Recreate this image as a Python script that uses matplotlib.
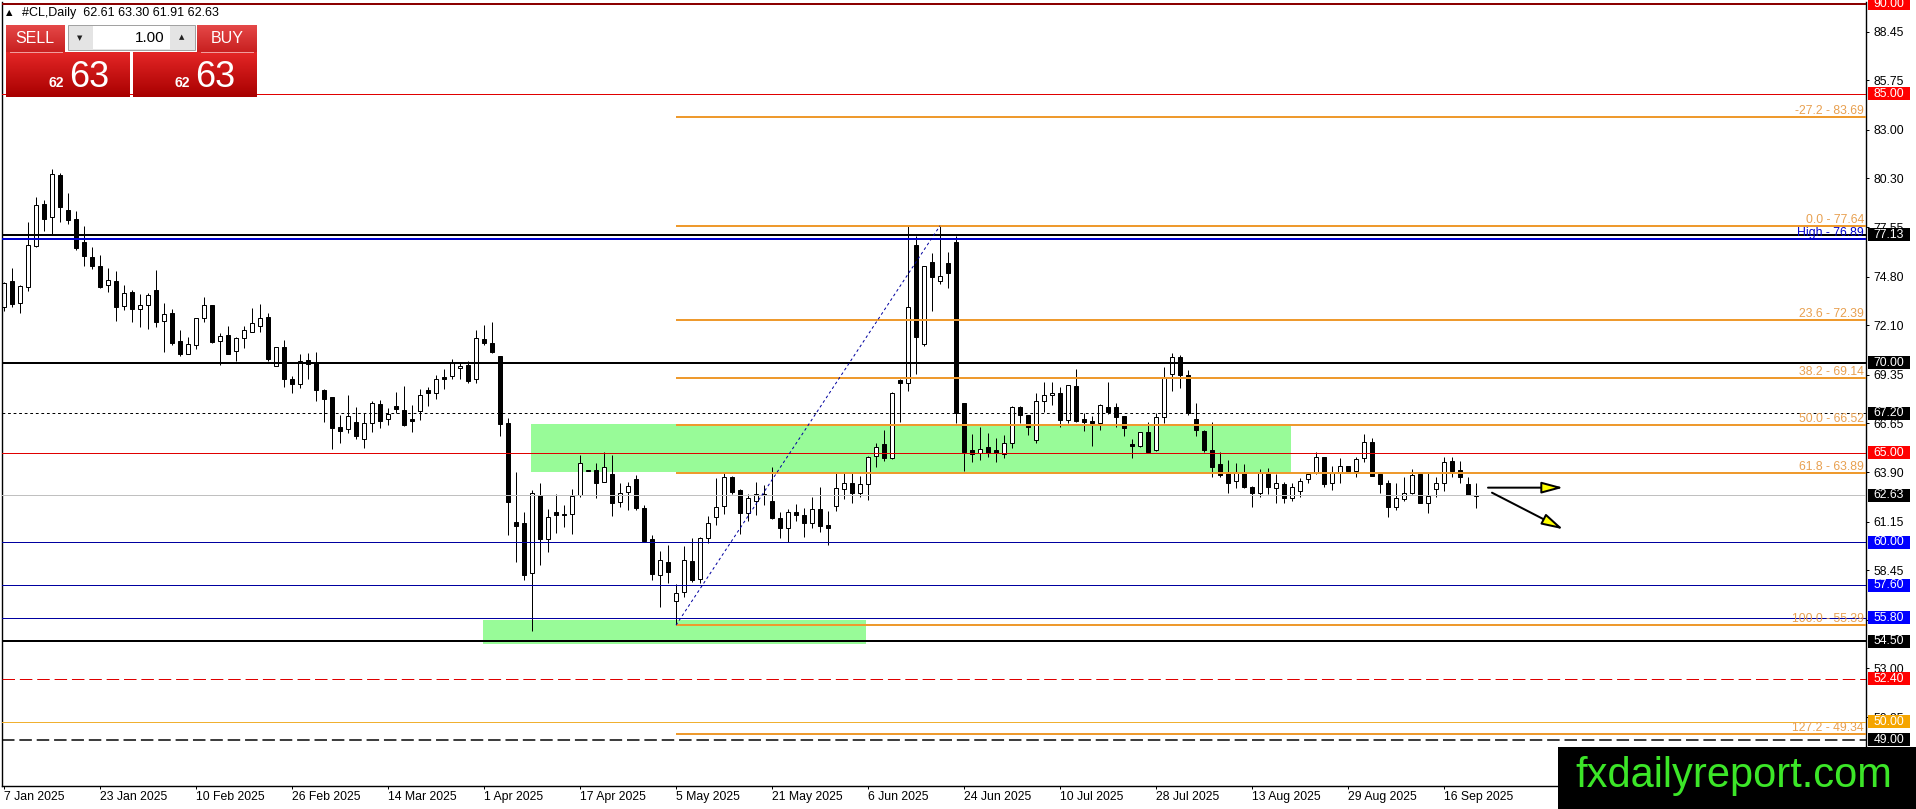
import matplotlib
matplotlib.use('Agg')
import matplotlib.pyplot as plt
from matplotlib.patches import Rectangle
from matplotlib.transforms import blended_transform_factory
from matplotlib.colors import LinearSegmentedColormap
import numpy as np

plt.rcParams['font.family'] = ['Liberation Sans', 'DejaVu Sans']
plt.rcParams['lines.scale_dashes'] = False

# ---------------- data (bar index 0 = 7 Jan 2025, daily bars) ----------------
opens = [73.13, 74.54, 73.32, 74.25, 76.53, 78.85, 78.11, 80.45, 78.52, 78.00,
         76.72, 75.90, 75.38, 74.32, 74.54, 73.17, 73.93, 72.98, 73.23, 74.04,
         72.35, 72.76, 71.20, 70.51, 71.00, 72.48, 73.21, 71.24, 71.53, 70.68,
         71.41, 71.74, 72.07, 72.56, 69.83, 70.90, 69.08, 68.80, 70.14, 70.01,
         68.49, 68.08, 66.43, 66.30, 66.69, 65.74, 66.63, 67.69, 66.85, 67.58,
         67.36, 66.89, 67.30, 68.49, 68.30, 69.20, 69.27, 69.70, 69.86, 69.08,
         71.35, 71.13, 70.37, 66.63, 61.12, 61.06, 58.31, 62.64, 60.17, 61.69,
         61.56, 61.56, 62.62, 63.99, 64.03, 63.38, 63.79, 62.27, 62.82, 63.51,
         61.90, 60.17, 58.18, 58.89, 56.75, 57.26, 58.96, 57.94, 60.22, 61.40,
         62.03, 63.66, 62.92, 61.62, 62.31, 62.70, 62.31, 61.34, 60.78, 61.67,
         61.52, 61.06, 61.84, 60.97, 62.03, 62.96, 63.33, 62.73, 63.23, 64.81,
         65.46, 64.68, 69.05, 68.90, 76.57, 71.05, 75.60, 74.58, 75.55, 76.72,
         67.75, 65.15, 64.96, 65.30, 65.15, 64.91, 65.52, 67.56, 67.10, 65.70,
         67.89, 68.19, 68.30, 66.82, 68.71, 66.85, 66.76, 66.63, 67.56, 67.52,
         67.04, 65.46, 65.39, 66.13, 65.15, 67.00, 69.36, 70.35, 69.32, 66.85,
         66.22, 65.15, 64.37, 63.88, 63.44, 63.88, 63.07, 62.77, 63.85, 63.01,
         63.25, 62.45, 62.88, 63.51, 63.94, 64.74, 63.29, 63.85, 64.26, 64.00,
         64.68, 65.57, 63.81, 63.33, 61.99, 62.40, 62.73, 63.81, 62.21, 62.96,
         63.29, 64.55, 64.03, 63.25, 62.61]
highs = [74.50, 75.27, 74.35, 77.87, 79.22, 79.07, 80.80, 80.56, 79.45, 78.46,
         77.63, 76.44, 76.01, 75.27, 75.12, 74.34, 74.06, 73.84, 73.87, 75.17,
         73.32, 72.98, 71.83, 71.42, 72.50, 73.69, 73.25, 71.65, 72.05, 71.46,
         72.05, 73.04, 73.26, 72.76, 70.90, 71.27, 69.27, 70.47, 70.57, 70.59,
         68.52, 68.10, 67.10, 68.21, 67.56, 67.19, 67.90, 67.93, 67.47, 68.38,
         68.71, 67.63, 68.53, 68.64, 69.32, 69.64, 70.20, 69.97, 70.12, 71.83,
         72.11, 72.28, 70.40, 66.91, 63.90, 61.71, 62.92, 63.33, 61.84, 62.70,
         62.08, 62.97, 64.87, 64.02, 64.40, 65.05, 64.87, 63.29, 63.38, 63.75,
         62.08, 60.41, 59.54, 59.85, 57.68, 59.80, 60.22, 60.32, 61.47, 63.57,
         63.85, 63.70, 62.95, 62.70, 63.38, 63.20, 64.22, 61.71, 61.84, 62.14,
         61.90, 62.55, 63.10, 61.77, 63.85, 63.85, 63.85, 63.70, 64.80, 65.52,
         66.26, 68.36, 69.08, 77.64, 77.07, 75.42, 76.10, 77.64, 76.20, 77.07,
         67.78, 66.04, 66.41, 66.08, 65.80, 65.98, 67.60, 67.60, 67.12, 68.34,
         68.92, 68.92, 68.64, 68.76, 69.64, 67.19, 67.04, 67.71, 68.92, 67.78,
         67.06, 65.74, 66.17, 66.72, 67.23, 69.75, 70.53, 70.44, 69.60, 67.75,
         66.24, 66.73, 65.05, 64.59, 64.44, 64.37, 63.14, 64.07, 64.12, 63.81,
         63.38, 63.29, 63.57, 63.94, 65.05, 64.77, 64.26, 64.68, 64.28, 64.77,
         66.02, 65.80, 63.85, 63.47, 63.29, 63.66, 64.07, 63.83, 63.88, 63.66,
         64.77, 64.74, 64.55, 63.66, 63.30]
lows = [72.90, 73.13, 72.80, 74.02, 76.47, 77.37, 77.18, 77.87, 77.74, 76.29,
        75.40, 75.23, 74.15, 73.97, 72.35, 72.95, 72.30, 72.02, 71.91, 72.02,
        70.62, 70.98, 70.40, 70.48, 70.77, 72.28, 71.13, 69.86, 70.50, 70.12,
        70.83, 71.70, 71.74, 70.12, 69.80, 68.68, 68.34, 68.58, 69.12, 67.90,
        66.72, 65.20, 65.55, 66.07, 65.78, 65.28, 66.13, 66.35, 66.54, 67.19,
        66.48, 66.17, 66.82, 67.60, 67.97, 68.53, 69.08, 69.10, 68.90, 68.86,
        71.00, 70.57, 65.93, 60.41, 58.93, 57.90, 55.08, 58.74, 59.44, 60.54,
        60.88, 60.45, 62.55, 63.97, 62.45, 63.35, 61.47, 61.99, 61.80, 61.80,
        60.10, 57.90, 56.38, 57.72, 55.39, 56.97, 57.81, 57.72, 59.95, 60.97,
        61.58, 62.70, 60.45, 61.21, 61.52, 62.08, 61.28, 60.23, 60.04, 61.21,
        60.28, 60.78, 60.60, 59.85, 61.77, 62.40, 62.18, 62.51, 62.36, 64.22,
        64.55, 64.63, 66.72, 68.45, 69.38, 70.94, 72.91, 74.39, 74.19, 66.67,
        63.99, 64.50, 64.59, 64.74, 64.50, 64.68, 65.24, 66.63, 65.98, 65.52,
        67.28, 67.65, 66.45, 66.63, 66.72, 66.22, 65.37, 66.26, 67.15, 66.45,
        65.93, 64.68, 65.33, 65.00, 65.10, 66.63, 68.45, 68.58, 67.10, 65.93,
        65.05, 63.62, 63.66, 62.77, 63.01, 63.05, 61.95, 62.55, 62.70, 62.17,
        62.21, 62.32, 62.51, 63.29, 63.81, 63.10, 62.92, 63.33, 63.94, 63.66,
        64.50, 63.70, 62.73, 61.43, 61.80, 62.32, 62.70, 62.17, 61.66, 62.51,
        62.88, 63.66, 63.33, 62.64, 61.91]
closes = [74.43, 73.28, 74.28, 76.55, 78.80, 78.02, 80.52, 78.70, 77.96, 76.42,
          75.97, 75.42, 74.25, 74.60, 73.09, 73.91, 72.98, 73.23, 73.76, 72.30,
          72.70, 71.13, 70.51, 71.03, 72.48, 73.21, 71.16, 71.48, 70.51, 71.37,
          71.81, 72.20, 72.48, 70.22, 70.90, 69.08, 68.81, 70.12, 69.94, 68.47,
          68.00, 66.35, 66.22, 67.02, 65.93, 66.63, 67.75, 66.78, 67.13, 67.41,
          66.54, 66.78, 68.19, 68.30, 69.12, 69.12, 69.98, 69.85, 68.99, 71.37,
          71.13, 70.62, 66.61, 62.27, 60.93, 58.18, 62.73, 60.21, 61.43, 61.54,
          61.51, 62.60, 64.40, 64.00, 63.32, 64.18, 62.21, 62.77, 63.16, 61.90,
          60.10, 58.22, 59.02, 58.37, 57.20, 59.02, 57.90, 60.26, 61.06, 61.95,
          63.62, 62.82, 61.66, 62.45, 62.68, 62.62, 61.34, 60.78, 61.71, 61.52,
          61.06, 61.84, 60.91, 60.78, 63.01, 63.33, 62.73, 63.23, 64.77, 65.33,
          64.68, 68.30, 68.86, 73.13, 71.46, 75.40, 74.80, 74.86, 74.99, 67.19,
          65.02, 64.91, 65.18, 65.00, 64.96, 65.52, 67.52, 67.10, 66.41, 67.89,
          68.21, 68.34, 66.82, 68.75, 66.78, 66.69, 66.63, 67.63, 67.28, 67.00,
          66.35, 65.39, 66.13, 65.05, 66.97, 69.23, 70.31, 69.32, 67.19, 66.26,
          65.15, 64.22, 63.75, 63.33, 63.94, 63.07, 62.73, 63.85, 63.10, 63.29,
          62.49, 63.10, 63.44, 63.79, 64.74, 63.25, 63.85, 64.26, 64.00, 64.63,
          65.61, 63.72, 63.25, 61.95, 62.45, 62.73, 63.75, 62.21, 62.58, 63.29,
          64.50, 64.00, 63.62, 62.66, 62.63]

date_label_bars = [0, 12, 24, 36, 48, 60, 72, 84, 96, 108, 120, 132, 144, 156, 168, 180]
date_labels = ["7 Jan 2025", "23 Jan 2025", "10 Feb 2025", "26 Feb 2025", "14 Mar 2025",
               "1 Apr 2025", "17 Apr 2025", "5 May 2025", "21 May 2025", "6 Jun 2025",
               "24 Jun 2025", "10 Jul 2025", "28 Jul 2025", "13 Aug 2025", "29 Aug 2025",
               "16 Sep 2025"]
ytick_values = [88.45, 85.75, 83.00, 80.30, 77.55, 74.80, 72.10, 69.35, 66.65,
                63.90, 61.15, 58.45, 55.70, 53.00, 50.25, 47.55]

# horizontal levels
level_values = [90.00, 85.00, 77.13, 70.00, 67.20, 65.00, 62.63, 60.00, 57.60,
                55.80, 54.50, 52.40, 50.00, 49.00]
level_colors = ['#8B0000', '#E00000', '#000000', '#000000', '#000000', '#E00000',
                '#C0C0C0', '#0000A0', '#0000A0', '#0000A0', '#000000', '#E00000',
                '#F0B030', '#000000']
level_widths = [2, 1, 2, 2, 1, 1, 1, 1, 1, 1, 2, 1, 1, 1.5]
level_styles = ['-', '-', '-', '-', ':', '-', '-', '-', '-', '-', '-', '--', '-', '--']
label_bg = ['#FF0000', '#FF0000', '#000000', '#000000', '#000000', '#FF0000',
            '#000000', '#0000FF', '#0000FF', '#0000FF', '#000000', '#FF0000',
            '#F5A500', '#000000']

high_level = 76.89
fib_ratios = ["-27.2", "0.0", "23.6", "38.2", "50.0", "61.8", "100.0", "127.2"]
fib_prices = [83.69, 77.64, 72.39, 69.14, 66.52, 63.89, 55.39, 49.34]
fib_start_bar = 84
trend_bars = [84, 117]
trend_prices = [55.39, 77.64]

zone_x0 = [59.9, 65.9]
zone_x1 = [107.8, 160.9]
zone_lo = [54.34, 63.94]
zone_hi = [55.68, 66.62]

arrow_from = [(185.5, 63.05), (186.0, 62.77)]
arrow_to = [(194.9, 63.05), (194.9, 60.73)]

# ---------------- figure ----------------
W, H = 1916, 809
fig = plt.figure(figsize=(W / 100, H / 100), dpi=100)
fig.patch.set_facecolor('white')
ax = fig.add_axes([2 / W, (H - 786) / H, 1864 / W, 784 / H])
ax.set_xlim(-0.25, 232.75)
ax.set_ylim(46.43, 90.105)
ax.set_facecolor('white')

px = 0.72  # points per pixel

# zones
for x0, x1, lo, hi in zip(zone_x0, zone_x1, zone_lo, zone_hi):
    ax.add_patch(Rectangle((x0, lo), x1 - x0, hi - lo, facecolor='#98FB98',
                           edgecolor='none', zorder=0.5))

# candles
o = np.array(opens); h = np.array(highs); l = np.array(lows); c = np.array(closes)
idx = np.arange(len(o))
up = c >= o
ax.vlines(idx, l, h, color='black', lw=1 * px, zorder=2)
bottoms = np.minimum(o, c)
heights = np.maximum(np.abs(c - o), 0.03)
ax.bar(idx[up], heights[up], bottom=bottoms[up], width=0.56, facecolor='white',
       edgecolor='black', linewidth=1 * px, zorder=2.1)
ax.bar(idx[~up], heights[~up], bottom=bottoms[~up], width=0.56, facecolor='black',
       edgecolor='black', linewidth=1 * px, zorder=2.1)

# horizontal levels
dash_map = {'-': '-', ':': (0, (2, 2)), '--': (0, (9, 3.5))}
for v, col, w, st in zip(level_values, level_colors, level_widths, level_styles):
    ax.axhline(v, color=col, lw=w * px, linestyle=dash_map[st], zorder=3)
ax.axhline(high_level, color='#0000CC', lw=2 * px, zorder=3)

# fibonacci
xr = ax.get_xlim()[1]
trans_lbl = blended_transform_factory(ax.transAxes, ax.transData)
for r, p in zip(fib_ratios, fib_prices):
    ax.hlines(p, fib_start_bar, xr, color='#EE9A2E', lw=2 * px, zorder=3)
    ax.text((1864 - 2) / 1864, p, f"{r} - {p:.2f}", transform=trans_lbl,
            ha='right', va='bottom', fontsize=8.8, color='#E8A050', zorder=4)
ax.text((1864 - 2) / 1864, high_level, f"High - {high_level:.2f}", transform=trans_lbl,
        ha='right', va='bottom', fontsize=8.8, color='#0000CC', zorder=4)
ax.plot(trend_bars, trend_prices, color='#0000A0', lw=1 * px,
        linestyle=(0, (2, 2)), zorder=3)

# arrows
for a0, a1 in zip(arrow_from, arrow_to):
    ax.annotate('', xy=a1, xytext=a0,
                arrowprops=dict(arrowstyle='-|>,head_length=1.3,head_width=0.35',
                                mutation_scale=10, fc='yellow', ec='black',
                                lw=2 * px, shrinkA=0, shrinkB=0), zorder=4)

# axes styling
ax.spines['top'].set_visible(False)
for s in ['left', 'right', 'bottom']:
    ax.spines[s].set_linewidth(1.4 * px)
    ax.spines[s].set_color('black')
ax.yaxis.tick_right()
ax.set_yticks(ytick_values)
ax.set_yticklabels([f"{v:.2f}" for v in ytick_values])
ax.tick_params(axis='y', direction='out', length=3 * px, width=1 * px, pad=3,
               labelsize=8.8, colors='black')
ax.set_xticks(date_label_bars)
ax.set_xticklabels(date_labels, ha='left')
ax.tick_params(axis='x', direction='out', length=3 * px, width=1 * px, pad=1.5,
               labelsize=8.8, colors='black')

# right side price labels
box_x0 = 1 + 2 / 1864
box_w = 42 / 1864
box_h = 13 / 17.95
for v, bg in zip(level_values, label_bg):
    ax.add_patch(Rectangle((box_x0, v - box_h / 2), box_w, box_h, transform=trans_lbl,
                           facecolor=bg, edgecolor='none', clip_on=False, zorder=5))
    ax.text(box_x0 + box_w / 2, v, f"{v:.2f}", transform=trans_lbl, color='white',
            ha='center', va='center', fontsize=8.8, clip_on=False, zorder=6)

# ---------------- overlay: header, trade panel, watermark ----------------
ov = fig.add_axes([0, 0, 1, 1], zorder=10)
ov.patch.set_visible(False)
ov.axis('off')

grad = np.linspace(0, 1, 64).reshape(-1, 1)
cm_btn = LinearSegmentedColormap.from_list('btn', ['#E54848', '#C82020'])
cm_px = LinearSegmentedColormap.from_list('pxb', ['#E42626', '#A80000'])


def gbox(x0, y0, w, hh, cmap):
    ov.imshow(grad, extent=(x0, x0 + w, y0 + hh, y0), cmap=cmap, aspect='auto',
              interpolation='bilinear', zorder=1)


gbox(6, 25, 59, 27, cm_btn)
gbox(197, 25, 60, 27, cm_btn)
gbox(6, 52, 124, 45, cm_px)
gbox(133, 52, 124, 45, cm_px)
ov.add_patch(Rectangle((68, 25), 127, 25, facecolor='#E4E4E4', edgecolor='#A0A0A0', lw=0.7, zorder=2))
ov.add_patch(Rectangle((93, 26), 77, 23, facecolor='white', edgecolor='none', zorder=3))
ov.plot([10, 62], [51.5, 51.5], color='#F2A0A0', lw=0.7, zorder=3)
ov.plot([201, 253], [51.5, 51.5], color='#F2A0A0', lw=0.7, zorder=3)
ov.text(35, 38.5, 'SELL', color='white', fontsize=11.5, ha='center', va='center', zorder=4)
ov.text(227, 38.5, 'BUY', color='white', fontsize=11.5, ha='center', va='center', zorder=4)
ov.text(165, 37.5, '1.00', color='black', fontsize=11, ha='right', va='center', zorder=4)
ov.text(80, 38, '▼', color='#202020', fontsize=5, ha='center', va='center', zorder=4,
        family=['DejaVu Sans'])
ov.text(182, 37, '▲', color='#202020', fontsize=5, ha='center', va='center', zorder=4,
        family=['DejaVu Sans'])
bid = f"{closes[-1]:.2f}"
for xs, xb in [(64, 69), (190, 195)]:
    ov.text(xs, 87, bid[:2], color='white', fontsize=10, fontweight='bold',
            ha='right', va='baseline', zorder=4)
    ov.text(xb, 87, bid[3:], color='white', fontsize=26, ha='left', va='baseline', zorder=4)

ov.text(6, 13, '▲', fontsize=6, va='center', ha='left', color='black', family=['DejaVu Sans'])
ov.text(22, 13, f"#CL,Daily  {opens[-1]:.2f} {highs[-1]:.2f} {lows[-1]:.2f} {closes[-1]:.2f}",
        fontsize=9, va='center', ha='left', color='black')

ov.add_patch(Rectangle((1558, 747), 358, 62, facecolor='black', edgecolor='none', zorder=5))
ov.text(1575, 787, 'fxdailyreport.com', color='#3CE628', fontsize=30, ha='left',
        va='baseline', zorder=6)

ov.set_xlim(0, W)
ov.set_ylim(H, 0)

fig.savefig('out.png', dpi=100)
